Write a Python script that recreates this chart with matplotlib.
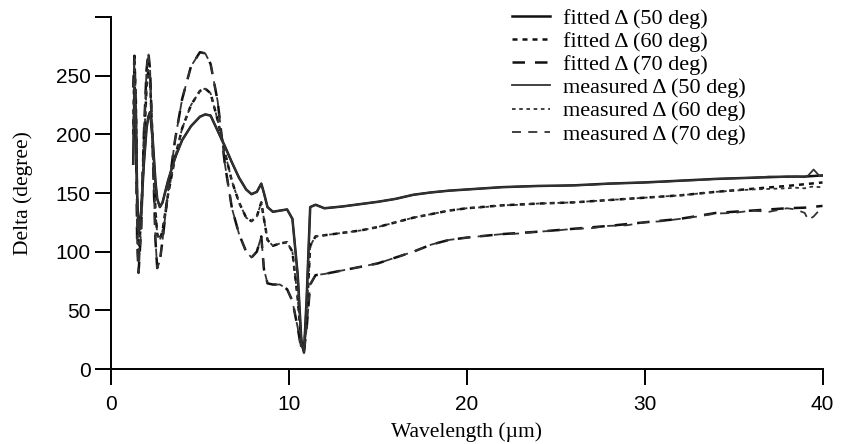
import matplotlib.pyplot as plt

# wavelength (um) and Delta (deg), short-wavelength part shared by fit and measurement
wl_head = [1.25, 1.32, 1.4, 1.47, 1.55, 1.7, 1.85, 2.0, 2.1, 2.2, 2.35, 2.5, 2.6, 2.75,
           2.9, 3.2, 3.6, 4.0, 4.5, 5.0, 5.3, 5.6, 6.0, 6.4, 6.8, 7.2, 7.6, 7.9, 8.2,
           8.45, 8.6, 8.8, 9.1, 9.5, 9.9, 10.2, 10.5, 10.7, 10.85, 11.0, 11.2, 11.5,
           12, 13, 14, 15, 16, 17, 18, 19]
d50_head = [175, 240, 215, 150, 115, 135, 175, 205, 215, 219, 195, 160, 145, 138,
            142, 160, 180, 195, 207, 215, 217, 216, 203, 190, 176, 163, 153, 149, 151,
            158, 150, 138, 134, 135, 136, 128, 80, 25, 14, 60, 138, 140,
            137, 138.5, 140.5, 142.5, 145, 148.5, 150.5, 152]
d60_head = [200, 262, 230, 140, 95, 130, 190, 240, 255, 245, 190, 135, 115, 110,
            118, 148, 180, 205, 225, 237, 239, 235, 212, 185, 160, 142, 129, 126, 130,
            142, 128, 110, 105, 107, 108, 100, 60, 22, 15, 45, 105, 113,
            114, 116, 118, 121, 125, 129, 132, 135]
d70_head = [240, 267, 220, 110, 82, 120, 200, 255, 270, 255, 185, 110, 86, 92,
            110, 150, 195, 230, 258, 270, 269, 260, 228, 175, 137, 115, 100, 95, 100,
            113, 85, 73, 72, 72, 68, 58, 35, 17, 15, 35, 72, 80,
            81, 84, 87, 90, 95, 100, 106, 110]

# long-wavelength part, fitted
wl_fit_tail = [20, 22, 24, 26, 28, 30, 32, 34, 36, 38, 39, 40]
fit50_tail = [153, 155, 156, 156.5, 158, 159, 160.5, 162, 163, 164, 164, 165]
fit60_tail = [137, 139.5, 141, 142, 144, 146, 148, 151, 153.5, 156, 157.5, 159]
fit70_tail = [112, 115, 117, 119.5, 122, 125, 128, 133, 135, 137, 137.5, 139]

# long-wavelength part, measured (noisier)
wl_meas_tail = [20, 21, 22, 23, 24, 25, 26, 27, 28, 29, 30, 31, 32, 33, 34, 35, 36,
                37, 38, 38.5, 39, 39.2, 39.5, 39.8, 40]
meas50_tail = [153, 154, 155, 155.5, 156, 156, 156.5, 157, 158, 158.5, 159, 159.5,
               160.5, 161, 162, 162.5, 163, 164, 163.5, 164, 163.5, 165, 170, 165, 164.5]
meas60_tail = [137, 138, 139.5, 140, 141, 141.5, 142, 143, 144, 145, 146, 147, 148,
               149.5, 151, 152, 153, 153.5, 154, 154.5, 154, 155, 155.5, 155, 155.5]
meas70_tail = [112, 113.5, 115, 115.5, 117, 118, 119.5, 120, 122, 122.5, 125, 126, 128,
               130, 132.5, 133, 135, 134, 137, 136, 133, 127, 130, 135, 138.5]

angles = [50, 60, 70]
styles = ['-', (0, (2, 2)), (0, (5, 4))]

fig = plt.figure(figsize=(8.49, 4.44), dpi=100)
ax = fig.add_axes([0.1307, 0.1689, 0.8381, 0.7928])

fit = [d50_head + fit50_tail, d60_head + fit60_tail, d70_head + fit70_tail]
meas = [d50_head + meas50_tail, d60_head + meas60_tail, d70_head + meas70_tail]

for ang, ls, y in zip(angles, styles, fit):
    ax.plot(wl_head + wl_fit_tail, y, color='#111111', lw=1.8, linestyle=ls,
            label='fitted \u0394 (%d deg)' % ang)
for ang, ls, y in zip(angles, styles, meas):
    ax.plot(wl_head + wl_meas_tail, y, color='#333333', lw=1.3, linestyle=ls,
            label='measured \u0394 (%d deg)' % ang)

ax.set_xlim(0, 40)
ax.set_ylim(0, 300)
ax.set_xticks([0, 10, 20, 30, 40])
ax.set_yticks([0, 50, 100, 150, 200, 250, 300])
ax.set_yticklabels(['0', '50', '100', '150', '200', '250', ''])

for s in ['top', 'right']:
    ax.spines[s].set_visible(False)
for s in ['left', 'bottom']:
    ax.spines[s].set_linewidth(1.4)

ax.tick_params(direction='out', length=11.5, width=1.4, labelsize=15)
ax.tick_params(axis='x', pad=7)
ax.tick_params(axis='y', pad=3)
for lab in ax.get_xticklabels() + ax.get_yticklabels():
    lab.set_family('Liberation Sans')

serif = {'family': 'Liberation Serif', 'size': 15.5}
ax.set_xlabel('Wavelength (\u00b5m)', fontdict=serif, labelpad=6)
ax.set_ylabel('Delta (degree)', fontdict=serif, labelpad=16)

ax.legend(loc='upper left', bbox_to_anchor=(512 / 849, 1 - 8 / 444),
          bbox_transform=fig.transFigure, frameon=False, borderpad=0,
          borderaxespad=0, handlelength=1.7, handletextpad=0.58,
          labelspacing=0.12, prop={'family': 'Liberation Serif', 'size': 16})

fig.savefig('out.png', dpi=100)
